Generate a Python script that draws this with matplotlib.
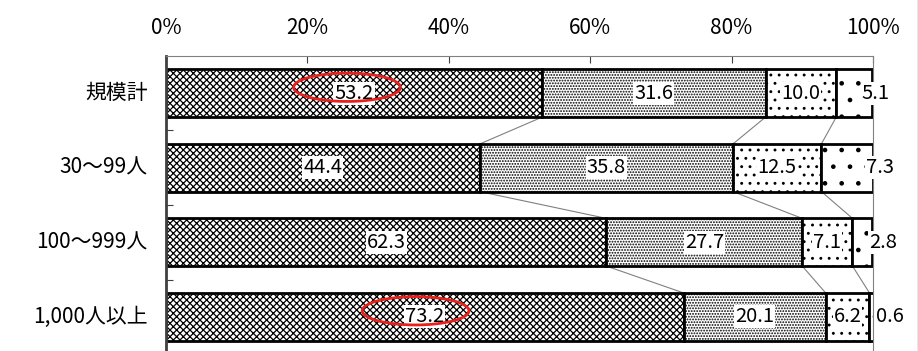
import matplotlib
matplotlib.use("Agg")
import matplotlib.pyplot as plt
from matplotlib.patches import Ellipse
import numpy as np

plt.rcParams['font.family'] = ['Noto Sans CJK JP', 'DejaVu Sans']
plt.rcParams['hatch.linewidth'] = 0.9

categories = ["規模計", "30～99人", "100～999人", "1,000人以上"]
seg1 = [53.2, 44.4, 62.3, 73.2]
seg2 = [31.6, 35.8, 27.7, 20.1]
seg3 = [10.0, 12.5, 7.1, 6.2]
seg4 = [5.1, 7.3, 2.8, 0.6]
x_ticks = [0, 20, 40, 60, 80, 100]
x_tick_labels = ["0%", "20%", "40%", "60%", "80%", "100%"]
circled = [(0, 53.2), (3, 73.2)]  # (row, value) marked with red ellipse

segments = [seg1, seg2, seg3, seg4]
hatches = ['xxxxx', '......', '..', '.']

fig = plt.figure(figsize=(9.18, 3.51), dpi=100)
ax = fig.add_axes([166 / 918, -3 / 351, 707 / 918, 298 / 351])

y = np.arange(len(categories))
bar_h = 0.64
left = np.zeros(len(categories))
for vals, h in zip(segments, hatches):
    ax.barh(y, vals, left=left, height=bar_h, color='white', edgecolor='black',
            hatch=h, linewidth=2, zorder=2)
    left = left + np.array(vals)

# connector lines between bars
cum = np.cumsum(np.array(segments), axis=0)
for k in range(3):
    for i in range(len(categories) - 1):
        ax.plot([cum[k][i], cum[k][i + 1]], [y[i] + bar_h / 2, y[i + 1] - bar_h / 2],
                color='#808080', lw=0.8, zorder=1)

# data labels
starts = np.vstack([np.zeros(len(categories)), cum[:-1]])
for k, vals in enumerate(segments):
    for i, v in enumerate(vals):
        if k == 3:
            xpos = 100.4 + [0.0, 0.6, 1.0, 2.0][i]
        else:
            xpos = starts[k][i] + v / 2
        ax.text(xpos, y[i], f"{v:.1f}", ha='center', va='center', fontsize=14.5,
                zorder=4, bbox=dict(boxstyle='square,pad=0.05', fc='white', ec='none'))

for row, v in circled:
    ax.add_patch(Ellipse((v / 2 - 1.0 if row == 0 else v / 2 - 1.3, row - 0.08), 15.1, 0.38,
                         fill=False, ec='#e8201c', lw=2, zorder=5))

ax.set_xlim(0, 100)
ax.set_ylim(3.5, -0.5)
ax.xaxis.tick_top()
ax.set_xticks(x_ticks)
ax.set_xticklabels(x_tick_labels, fontsize=15)
ax.tick_params(axis='x', direction='in', length=5, pad=12, color='#404040')
ax.set_yticks([0.5, 1.5, 2.5], minor=False)
ax.set_yticklabels([])
ax.tick_params(axis='y', direction='in', length=5, color='#404040')
for i, c in enumerate(categories):
    ax.text(-2.6, y[i], c, ha='right', va='center', fontsize=15)

ax.spines['left'].set_color('#404040')
ax.spines['left'].set_linewidth(2)
ax.spines['top'].set_color('#808080')
ax.spines['right'].set_color('#808080')
ax.spines['bottom'].set_visible(False)

fig.add_artist(plt.Line2D([917.5 / 918, 917.5 / 918], [0, 1], color='#808080', lw=1))

fig.savefig('out.png', dpi=100)
